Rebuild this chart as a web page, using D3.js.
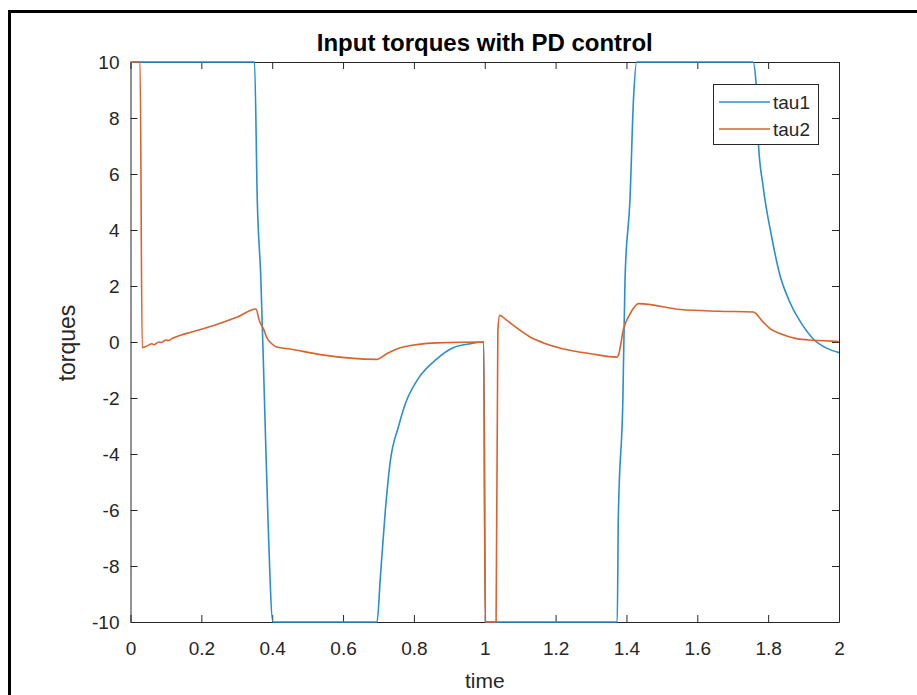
<!DOCTYPE html>
<meta charset="utf-8">
<style>

body {
  margin: 0;
  background: #fff;
}

svg text {
  font-family: "Liberation Sans", Arial, Helvetica, sans-serif;
  fill: #262626;
}

.axis path,
.axis line {
  stroke: #262626;
  stroke-width: 1px;
}

.line {
  fill: none;
  stroke-width: 1.6px;
  stroke-linejoin: round;
}

</style>
<body>
<script src="https://d3js.org/d3.v7.min.js"></script>
<script>

// tau1 (blue)
var tau1Time = [0, 0.350, 0.358, 0.368, 0.378, 0.388, 0.402, 0.696, 0.705, 0.719, 0.733, 0.757, 0.776, 0.812, 0.865, 0.912, 0.959, 0.997, 1.002,
                1.374, 1.377, 1.390, 1.396, 1.410, 1.420, 1.429, 1.757, 1.766, 1.772, 1.786, 1.810, 1.833, 1.862, 1.900, 1.928, 1.965, 2.0];
var tau1Value = [10, 10, 5.0, 2.26, -2.0, -6.3, -10, -10, -8.46, -6.07, -4.29, -3.0, -2.2, -1.31, -0.6, -0.2, -0.06, 0, -10,
                 -10, -6.3, -2.0, 2.26, 5.1, 8.7, 10, 10, 9.22, 7.2, 5.54, 3.75, 2.4, 1.4, 0.55, 0.1, -0.22, -0.38];

// tau2 (orange)
var tau2Time = [0, 0.027, 0.033, 0.050, 0.060, 0.066, 0.080, 0.086, 0.100, 0.106, 0.120, 0.141, 0.170, 0.235, 0.300, 0.354,
                0.364, 0.376, 0.385, 0.395, 0.413, 0.450, 0.536, 0.696, 0.723, 0.770, 0.864, 0.997, 1.001, 1.032, 1.037, 1.042,
                1.060, 1.081, 1.128, 1.170, 1.220, 1.300, 1.373, 1.377, 1.392, 1.410, 1.434, 1.553, 1.660, 1.758, 1.786, 1.805,
                1.833, 1.880, 1.928, 2.0];
var tau2Value = [10, 10, -0.2, -0.12, -0.06, -0.1, 0.0, -0.02, 0.07, 0.05, 0.14, 0.24, 0.35, 0.59, 0.88, 1.18,
                 0.75, 0.45, 0.15, -0.02, -0.18, -0.25, -0.45, -0.62, -0.42, -0.18, -0.03, 0.0, -10, -10, 0.4, 0.95,
                 0.8, 0.59, 0.18, -0.05, -0.24, -0.42, -0.54, -0.48, 0.48, 1.0, 1.37, 1.16, 1.1, 1.07, 0.71, 0.48,
                 0.30, 0.12, 0.06, 0.02];

var seriesNames = ["tau1", "tau2"];
var seriesColors = ["#2a8fcf", "#d9622e"];

var xTicks = [0, 0.2, 0.4, 0.6, 0.8, 1, 1.2, 1.4, 1.6, 1.8, 2];
var yTicks = [-10, -8, -6, -4, -2, 0, 2, 4, 6, 8, 10];

var width = 917,
    height = 695;

var plot = {left: 130.5, right: 839, top: 62, bottom: 622};

var series = [
  {name: seriesNames[0], values: tau1Time.map((t, i) => ({t: t, v: tau1Value[i]}))},
  {name: seriesNames[1], values: tau2Time.map((t, i) => ({t: t, v: tau2Value[i]}))}
];

var xScale = d3.scaleLinear()
    .domain([0, 2])
    .range([plot.left, plot.right]);

var yScale = d3.scaleLinear()
    .domain([-10, 10])
    .range([plot.bottom, plot.top]);

var line = d3.line()
    .x(d => xScale(d.t))
    .y(d => yScale(d.v))
    .curve(d3.curveMonotoneX);

var svg = d3.select("body").append("svg")
    .attr("width", width)
    .attr("height", height);

svg.append("rect")
    .attr("width", width)
    .attr("height", height)
    .attr("fill", "#fff");

// outer black frame of the figure
svg.append("rect")
    .attr("x", 9.5)
    .attr("y", 11.5)
    .attr("width", 1000)
    .attr("height", 1000)
    .attr("fill", "none")
    .attr("stroke", "#000")
    .attr("stroke-width", 3);

// axes box with inward ticks, plain hyphen for minus like matlab
var plain = d => String(d);

svg.append("g")
    .attr("class", "axis")
    .attr("transform", `translate(0, ${plot.bottom})`)
    .call(d3.axisBottom(xScale).tickValues(xTicks).tickSize(-7).tickSizeOuter(0).tickPadding(19.5).tickFormat(plain))
    .call(g => g.selectAll("text").style("font-size", "19px"));

svg.append("g")
    .attr("class", "axis")
    .attr("transform", `translate(${plot.left}, 0)`)
    .call(d3.axisLeft(yScale).tickValues(yTicks).tickSize(-7).tickSizeOuter(0).tickPadding(11).tickFormat(plain))
    .call(g => g.selectAll("text").style("font-size", "19px"));

svg.append("g")
    .attr("class", "axis")
    .attr("transform", `translate(0, ${plot.top})`)
    .call(d3.axisTop(xScale).tickValues(xTicks).tickSize(-7).tickSizeOuter(0).tickFormat(""));

svg.append("g")
    .attr("class", "axis")
    .attr("transform", `translate(${plot.right}, 0)`)
    .call(d3.axisRight(yScale).tickValues(yTicks).tickSize(-7).tickSizeOuter(0).tickFormat(""));

svg.selectAll(".axis text")
    .attr("fill", "#262626");

// lines
svg.selectAll(".line")
    .data(series)
  .enter().append("path")
    .attr("class", "line")
    .attr("d", d => line(d.values))
    .style("stroke", (d, i) => seriesColors[i]);

// title and labels
svg.append("text")
    .attr("x", (plot.left + plot.right) / 2)
    .attr("y", 51)
    .attr("text-anchor", "middle")
    .style("font-size", "24px")
    .style("font-weight", "bold")
    .style("fill", "#000")
    .text("Input torques with PD control");

svg.append("text")
    .attr("x", (plot.left + plot.right) / 2)
    .attr("y", 688)
    .attr("text-anchor", "middle")
    .style("font-size", "21px")
    .text("time");

svg.append("text")
    .attr("transform", "translate(75, 343) rotate(-90)")
    .attr("text-anchor", "middle")
    .style("font-size", "23px")
    .text("torques");

// legend
var legend = svg.append("g");

legend.append("rect")
    .attr("x", 713.5)
    .attr("y", 84.5)
    .attr("width", 105)
    .attr("height", 60)
    .attr("fill", "#fff")
    .attr("stroke", "#262626")
    .attr("stroke-width", 1);

var item = legend.selectAll(".item")
    .data(seriesNames)
  .enter().append("g")
    .attr("class", "item")
    .attr("transform", (d, i) => `translate(0, ${102 + i * 27})`);

item.append("line")
    .attr("x1", 719)
    .attr("x2", 770)
    .attr("stroke", (d, i) => seriesColors[i])
    .attr("stroke-width", 1.6);

item.append("text")
    .attr("x", 773)
    .attr("dy", "0.35em")
    .style("font-size", "19px")
    .text(d => d);

</script>
